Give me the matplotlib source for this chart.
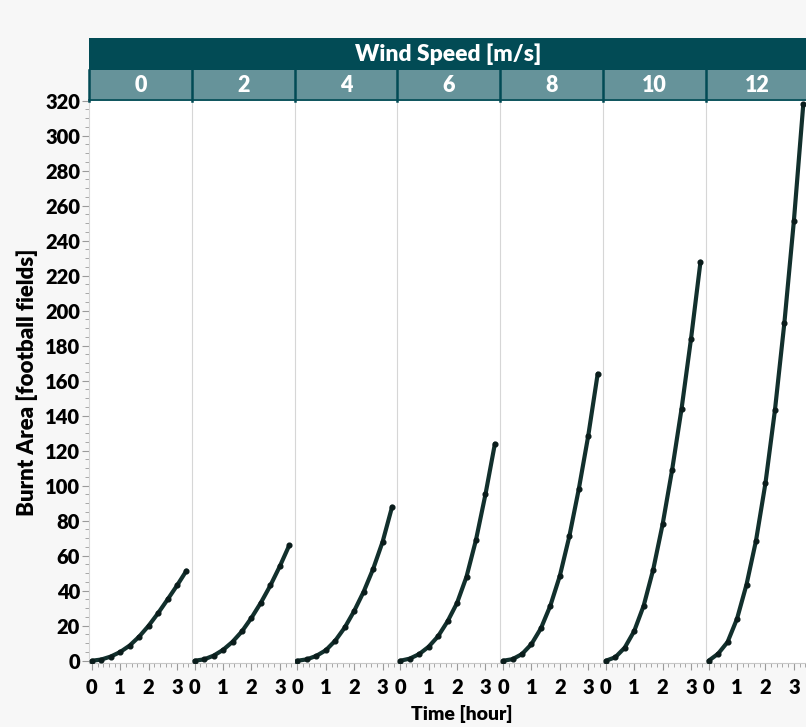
import numpy as np
import matplotlib
matplotlib.use("Agg")
from matplotlib import pyplot as plt
from matplotlib.patches import Rectangle
from matplotlib.ticker import MultipleLocator

plt.rcParams["font.family"] = ["Lato", "DejaVu Sans"]

# donnees (surface brulee en terrains de foot)
wind_speeds = [0, 2, 4, 6, 8, 10, 12]
minutes = [0, 20, 40, 60, 80, 100, 120, 140, 160, 180, 200]

area_ws0 = [0, 0.7, 2.4, 5.0, 8.7, 13.8, 20.0, 27.2, 35.0, 43.0, 51.5]
area_ws2 = [0, 0.8, 2.9, 6.2, 10.8, 16.8, 24.5, 33.2, 43.0, 54.0, 66.0]
area_ws4 = [0, 0.8, 2.8, 6.0, 11.5, 19.0, 28.5, 39.5, 52.5, 68.0, 88.0]
area_ws6 = [0, 1.2, 3.8, 8.0, 14.0, 22.5, 33.0, 48.0, 69.0, 95.0, 124.0]
area_ws8 = [0, 0.9, 3.8, 9.5, 18.5, 31.5, 48.5, 71.0, 98.0, 128.5, 164.0]
area_ws10 = [0, 2.0, 7.5, 17.0, 31.5, 52.0, 78.0, 109.0, 144.0, 184.0, 228.0]
area_ws12 = [0, 4.0, 10.7, 24.0, 43.5, 68.5, 101.4, 143.0, 193.0, 251.0, 318.0]

areas = [area_ws0, area_ws2, area_ws4, area_ws6, area_ws8, area_ws10, area_ws12]

W, H = 806, 727
fig = plt.figure(figsize=(W / 100, H / 100), dpi=100)
fig.patch.set_facecolor("#f7f7f7")

dark = "#024b55"
light = "#66939a"
gris = "#c8c8c8"
poids = "heavy"

left = 89.0    # px
pw = 102.8     # largeur d'un panneau
top = 100.7
bottom = 662.5

t = np.array(minutes) / 60.0

def fx(px):
    return px / W

def fy(py):
    return 1 - py / H

for i, ws in enumerate(wind_speeds):
    ax = fig.add_axes([fx(left + i * pw), fy(bottom), pw / W, (bottom - top) / H])
    ax.set_facecolor("white")
    ax.plot(t, areas[i], color="#12302d", lw=3.0, solid_capstyle="round",
            solid_joinstyle="round", marker="o", ms=3.4, mfc="#0a1c1b",
            mec="#0a1c1b", zorder=3)
    ax.set_xlim(-0.1, 3.52)
    ax.set_ylim(-1.0, 320)
    for s in ["top", "right"]:
        ax.spines[s].set_visible(False)
    ax.spines["left"].set_color("#d6d6d6")
    ax.spines["bottom"].set_color(gris)
    ax.xaxis.set_minor_locator(MultipleLocator(0.2))
    ax.set_xticks([0, 1, 2, 3])
    ax.tick_params(axis="x", which="major", length=5, color="#9a9a9a", pad=6,
                   labelsize=14.5)
    ax.tick_params(axis="x", which="minor", length=3, color="#9a9a9a")
    for lab in ax.get_xticklabels():
        lab.set_fontweight(poids)
    if i == 0:
        ax.yaxis.set_major_locator(MultipleLocator(20))
        ax.yaxis.set_minor_locator(MultipleLocator(5))
        ax.tick_params(axis="y", which="major", length=5, color="#9a9a9a", pad=1.5,
                       labelsize=14.5)
        ax.tick_params(axis="y", which="minor", length=3, color="#9a9a9a")
        for lab in ax.get_yticklabels():
            lab.set_fontweight(poids)
    else:
        ax.tick_params(axis="y", which="both", left=False, labelleft=False)

# bandeaux du haut
fig.patches.append(Rectangle((fx(left), fy(69.5)), 1.0, (69.5 - 38.3) / H,
                             transform=fig.transFigure, facecolor=dark, edgecolor="none"))
fig.patches.append(Rectangle((fx(left), fy(100.7)), 1.0, (100.7 - 69.5) / H,
                             transform=fig.transFigure, facecolor=light, edgecolor="none"))
for i in range(len(wind_speeds) + 1):
    xp = left + i * pw
    fig.add_artist(plt.Line2D([fx(xp), fx(xp)], [fy(100.7), fy(69.5)],
                              transform=fig.transFigure, color=dark, lw=1.8))
fig.add_artist(plt.Line2D([fx(left), 1.0], [fy(100.2), fy(100.2)],
                          transform=fig.transFigure, color=dark, lw=1.2))

fig.text(fx(448), fy(54), "Wind Speed [m/s]", color="white", fontsize=16.5,
         fontweight=poids, ha="center", va="center")
for i, ws in enumerate(wind_speeds):
    fig.text(fx(left + (i + 0.5) * pw), fy(86), str(ws), color="white", fontsize=15.5,
             fontweight=poids, ha="center", va="center")

fig.text(fx(462), fy(714), "Time [hour]", fontsize=14, fontweight=poids,
         ha="center", va="center")
fig.text(fx(27), fy(382), "Burnt Area [football fields]", fontsize=16,
         fontweight=poids, ha="center", va="center", rotation=90)

plt.savefig("out.png", dpi=100, facecolor=fig.get_facecolor())
